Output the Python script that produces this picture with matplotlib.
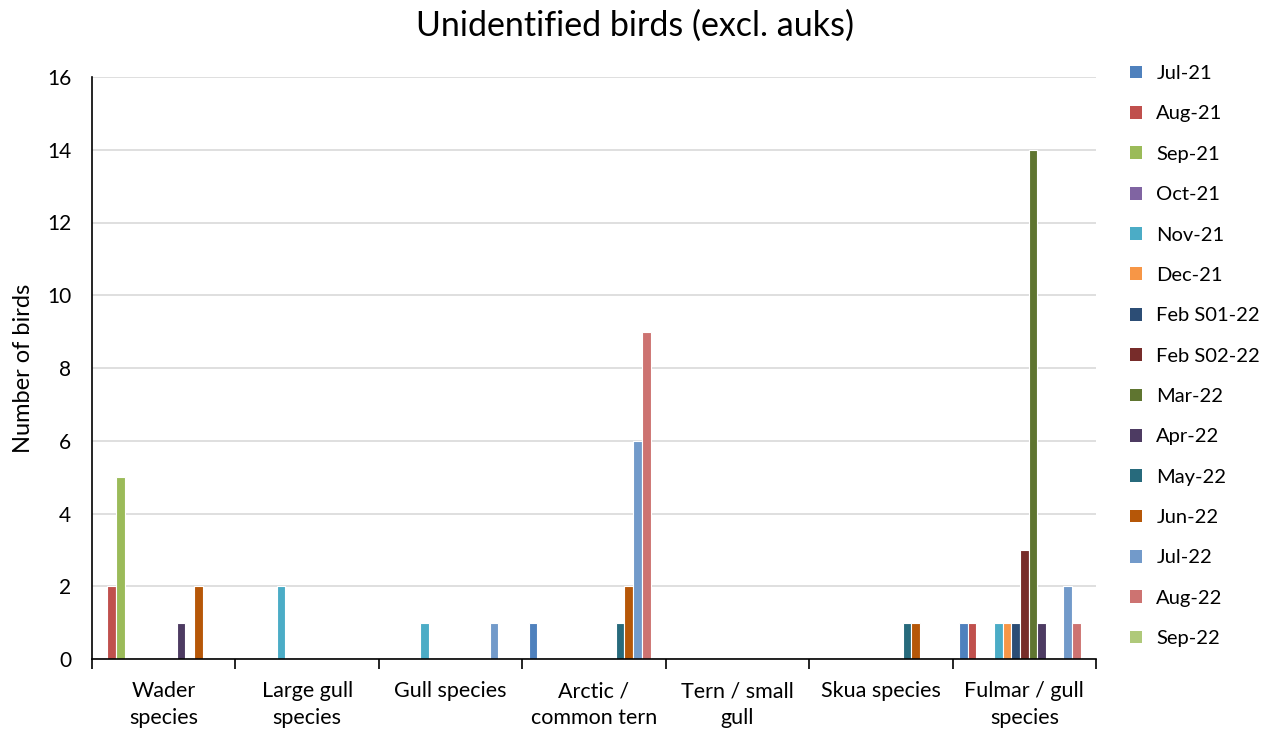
import matplotlib
matplotlib.use("Agg")
import matplotlib.pyplot as plt
import numpy as np

plt.rcParams['font.family'] = ['Lato', 'DejaVu Sans']

categories = ["Wader\nspecies", "Large gull\nspecies", "Gull species", "Arctic /\ncommon tern",
              "Tern / small\ngull", "Skua species", "Fulmar / gull\nspecies"]

series_names = ["Jul-21", "Aug-21", "Sep-21", "Oct-21", "Nov-21", "Dec-21", "Feb S01-22",
                "Feb S02-22", "Mar-22", "Apr-22", "May-22", "Jun-22", "Jul-22", "Aug-22", "Sep-22"]

series_colors = ["#4F81BD", "#C0504D", "#9BBB59", "#8064A2", "#4BACC6", "#F79646", "#2C4D75",
                 "#772C2A", "#5F7530", "#4D3B62", "#276A7C", "#B65708", "#729ACA", "#CD7371",
                 "#AFC97A"]

# counts per category, one list per month
jul21 = [0, 0, 0, 1, 0, 0, 1]
aug21 = [2, 0, 0, 0, 0, 0, 1]
sep21 = [5, 0, 0, 0, 0, 0, 0]
oct21 = [0, 0, 0, 0, 0, 0, 0]
nov21 = [0, 2, 1, 0, 0, 0, 1]
dec21 = [0, 0, 0, 0, 0, 0, 1]
feb_s01_22 = [0, 0, 0, 0, 0, 0, 1]
feb_s02_22 = [0, 0, 0, 0, 0, 0, 3]
mar22 = [0, 0, 0, 0, 0, 0, 14]
apr22 = [1, 0, 0, 0, 0, 0, 1]
may22 = [0, 0, 0, 1, 0, 1, 0]
jun22 = [2, 0, 0, 2, 0, 1, 0]
jul22 = [0, 0, 1, 6, 0, 0, 2]
aug22 = [0, 0, 0, 9, 0, 0, 1]
sep22 = [0, 0, 0, 0, 0, 0, 0]

series_values = [jul21, aug21, sep21, oct21, nov21, dec21, feb_s01_22, feb_s02_22,
                 mar22, apr22, may22, jun22, jul22, aug22, sep22]

fig = plt.figure(figsize=(12.7, 7.32), dpi=100)
ax = fig.add_axes([92 / 1270, 1 - 659 / 732, (1096 - 92) / 1270, (659 - 77) / 732])

n = len(series_names)
gap = 1.5
slot = 1.0 / (n + gap)
x = np.arange(len(categories))
for i, (name, vals, col) in enumerate(zip(series_names, series_values, series_colors)):
    offs = -0.5 + slot * gap / 2 + slot * (i + 0.5)
    v = np.asarray(vals, dtype=float)
    # white outline only on bars that have height, so empty slots leave the axis clean
    edges = ["white" if val > 0 else "none" for val in v]
    ax.bar(x + offs, v, width=slot, color=col, edgecolor=edges, linewidth=0.8,
           label=name, zorder=2)

ax.set_xlim(-0.5, len(categories) - 0.5)
ax.set_ylim(0, 16)
ax.set_yticks(range(0, 17, 2))
ax.tick_params(axis="y", length=0, labelsize=15, pad=15)
ax.grid(axis="y", color="#D9D9D9", linewidth=1.2, zorder=0)

ax.set_xticks(x)
ax.set_xticklabels(categories, fontsize=15.5, linespacing=1.45)
ax.tick_params(axis="x", which="major", length=0, pad=16)
ax.set_xticks(np.arange(-0.5, len(categories), 1.0), minor=True)
ax.tick_params(axis="x", which="minor", length=7, width=1.2, color="black", direction="out")

for side in ["top", "right"]:
    ax.spines[side].set_visible(False)
for side in ["left", "bottom"]:
    ax.spines[side].set_color("black")
    ax.spines[side].set_linewidth(1.2)
    ax.spines[side].set_zorder(3)

ax.set_ylabel("Number of birds", fontsize=17, labelpad=9)
fig.suptitle("Unidentified birds (excl. auks)", fontsize=24.5, y=0.987)

leg = ax.legend(loc="upper left", bbox_to_anchor=(1112 / 1270, 1 - 47 / 732),
                bbox_transform=fig.transFigure, frameon=False, fontsize=14.5,
                handlelength=0.6, handleheight=0.6, handletextpad=0.7,
                labelspacing=1.16)
for hnd in leg.legend_handles:
    hnd.set_edgecolor("none")

fig.savefig("out.png", dpi=100)
